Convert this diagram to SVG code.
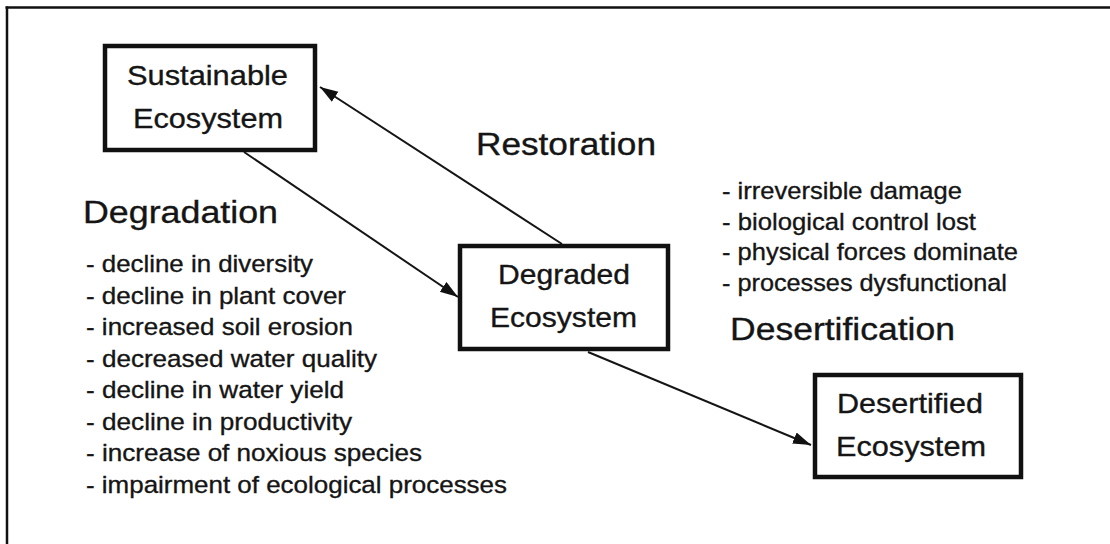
<svg xmlns="http://www.w3.org/2000/svg" width="1110" height="544" viewBox="0 0 1110 544">
<style>
text{font-family:"Liberation Sans",Arial,sans-serif;fill:#151515;stroke:#151515;stroke-width:0.35}
.box{fill:#fff;stroke:#111;stroke-width:4.5}
.bt{font-size:28.5px}
.hd{font-size:31px}
.li{font-size:24.5px}
.conn{stroke:#151515;stroke-width:2;fill:none}
</style>
<defs>
<marker id="ah" markerUnits="userSpaceOnUse" markerWidth="20" markerHeight="14" refX="18" refY="6" orient="auto">
<path d="M0,0 L18,6 L0,12 z" fill="#111"/>
</marker>
</defs>
<rect x="0" y="0" width="1110" height="544" fill="#fff"/>
<g id="frame">
<line x1="5.5" y1="7.5" x2="1110" y2="7.5" stroke="#111" stroke-width="2.5"/>
<line x1="7" y1="6.5" x2="7" y2="544" stroke="#111" stroke-width="2.5"/>
</g>
<g id="connectors">
<line class="conn" x1="244" y1="152" x2="458" y2="297" marker-end="url(#ah)"/>
<line class="conn" x1="562" y1="244" x2="320" y2="87" marker-end="url(#ah)"/>
<line class="conn" x1="588" y1="352" x2="811" y2="445" marker-end="url(#ah)"/>
</g>
<g id="sustainable">
<rect class="box" x="105" y="46" width="210" height="104"/>
<text class="bt" x="127" y="85" textLength="161" lengthAdjust="spacingAndGlyphs">Sustainable</text>
<text class="bt" x="133" y="128" textLength="150" lengthAdjust="spacingAndGlyphs">Ecosystem</text>
</g>
<g id="degraded">
<rect class="box" x="460" y="246" width="208" height="103"/>
<text class="bt" x="498" y="284" textLength="132" lengthAdjust="spacingAndGlyphs">Degraded</text>
<text class="bt" x="490" y="327" textLength="147" lengthAdjust="spacingAndGlyphs">Ecosystem</text>
</g>
<g id="desertified">
<rect class="box" x="815" y="375" width="206" height="102"/>
<text class="bt" x="837" y="413" textLength="146" lengthAdjust="spacingAndGlyphs">Desertified</text>
<text class="bt" x="836" y="456" textLength="150" lengthAdjust="spacingAndGlyphs">Ecosystem</text>
</g>
<g id="restoration">
<text class="hd" x="476" y="155" textLength="180" lengthAdjust="spacingAndGlyphs">Restoration</text>
</g>
<g id="degradation">
<text class="hd" x="83" y="223" textLength="195" lengthAdjust="spacingAndGlyphs">Degradation</text>
<text class="li" x="86" y="272" textLength="227" lengthAdjust="spacingAndGlyphs">- decline in diversity</text>
<text class="li" x="86" y="303.5" textLength="260" lengthAdjust="spacingAndGlyphs">- decline in plant cover</text>
<text class="li" x="86" y="335" textLength="267" lengthAdjust="spacingAndGlyphs">- increased soil erosion</text>
<text class="li" x="86" y="366.5" textLength="291" lengthAdjust="spacingAndGlyphs">- decreased water quality</text>
<text class="li" x="86" y="398" textLength="258" lengthAdjust="spacingAndGlyphs">- decline in water yield</text>
<text class="li" x="86" y="429.5" textLength="266" lengthAdjust="spacingAndGlyphs">- decline in productivity</text>
<text class="li" x="86" y="461" textLength="336" lengthAdjust="spacingAndGlyphs">- increase of noxious species</text>
<text class="li" x="86" y="492.5" textLength="421" lengthAdjust="spacingAndGlyphs">- impairment of ecological processes</text>
</g>
<g id="desertification">
<text class="li" x="722" y="199" textLength="240" lengthAdjust="spacingAndGlyphs">- irreversible damage</text>
<text class="li" x="722" y="229.5" textLength="254" lengthAdjust="spacingAndGlyphs">- biological control lost</text>
<text class="li" x="722" y="260" textLength="296" lengthAdjust="spacingAndGlyphs">- physical forces dominate</text>
<text class="li" x="722" y="290.5" textLength="285" lengthAdjust="spacingAndGlyphs">- processes dysfunctional</text>
<text class="hd" x="730" y="340" textLength="225" lengthAdjust="spacingAndGlyphs">Desertification</text>
</g>
</svg>
